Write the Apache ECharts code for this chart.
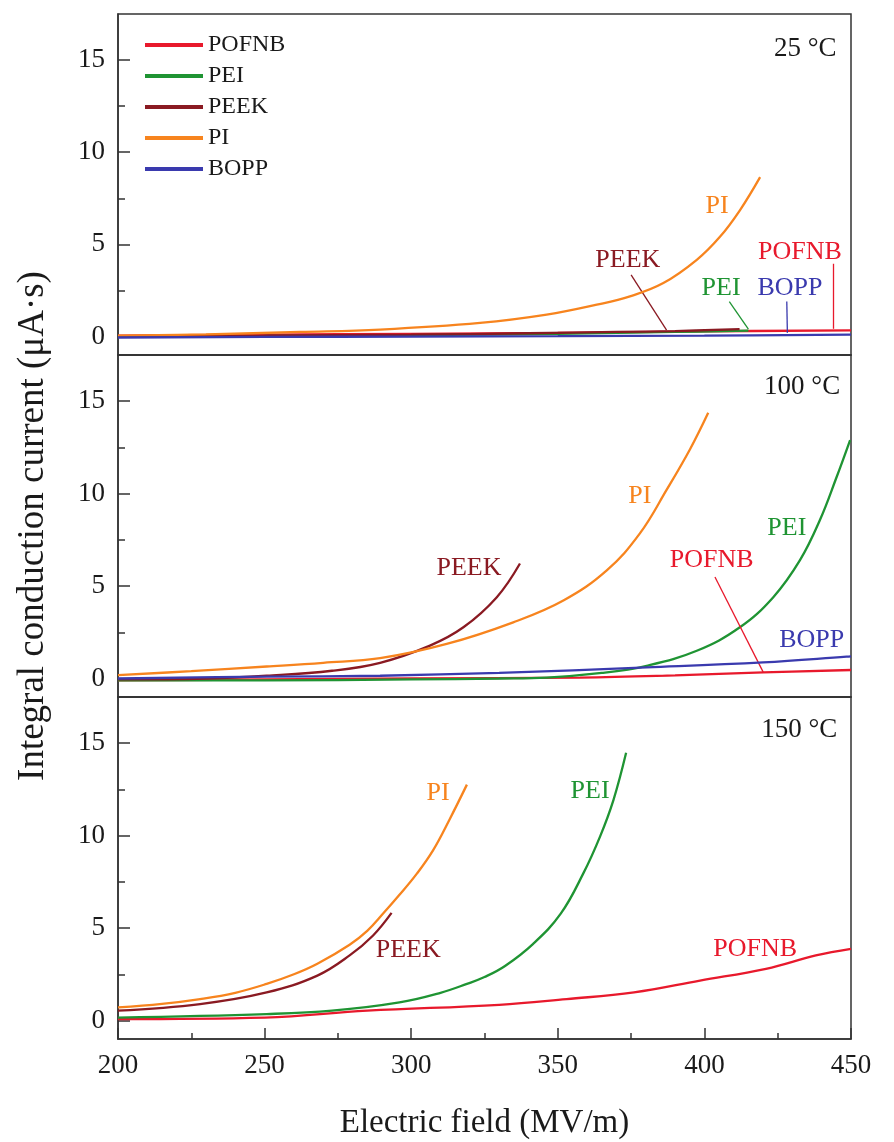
<!DOCTYPE html>
<html>
<head>
<meta charset="utf-8">
<script src="https://cdn.jsdelivr.net/npm/echarts@6/dist/echarts.min.js"></script>
<style>html,body{margin:0;padding:0;background:#fff}#c{width:894px;height:1142px}</style>
</head>
<body>
<div id="c"></div>
<script>
// ---------- data (x: electric field MV/m, y: integral conduction current µA·s) ----------
const materials = ['POFNB', 'PEI', 'PEEK', 'PI', 'BOPP'];
const temperatures = ['25 °C', '100 °C', '150 °C'];
const xTickLabels = [200, 250, 300, 350, 400, 450];
const xMinorTicks = [225, 275, 325, 375, 425];
const yTickLabels = [0, 5, 10, 15];
const yMinorTicks = [2.5, 7.5, 12.5];

// 25 °C
const POFNB_25 = [[200,0.05],[250,0.1],[300,0.15],[350,0.2],[400,0.28],[450,0.34]];
const PEI_25   = [[200,0.0],[250,0.03],[300,0.08],[350,0.15],[390,0.25],[415,0.32]];
const PEEK_25  = [[200,0.02],[250,0.05],[300,0.1],[340,0.18],[370,0.25],[390,0.3],[412,0.4]];
const PI_25    = [[200,0.05],[230,0.12],[262,0.25],[289.4,0.38],[323.5,0.74],[346.2,1.19],[363.3,1.73],[374.6,2.18],[386,2.9],[397.4,4.16],[405.3,5.41],[412.1,6.85],[419,8.65]];
const BOPP_25  = [[200,-0.05],[250,-0.02],[300,0.0],[350,0.02],[400,0.05],[450,0.1]];

// 100 °C
const POFNB_100 = [[200,-0.1],[250,-0.05],[300,0.0],[357.6,0.05],[390,0.17],[420.1,0.33],[450,0.46]];
const PEI_100   = [[200,-0.1],[250,-0.1],[300,-0.05],[330,0.0],[346.2,0.05],[365,0.3],[380.3,0.69],[397.4,1.5],[412.1,2.77],[423.5,4.4],[432.6,6.4],[439.4,8.57],[445.1,10.9],[449.7,12.9]];
const PEEK_100  = [[200,-0.05],[230,0.0],[250.7,0.15],[273,0.42],[289.4,0.85],[306.4,1.78],[317.8,2.77],[329.2,4.4],[337.1,6.22]];
const PI_100    = [[200,0.18],[225,0.4],[250.7,0.65],[270,0.85],[289.4,1.1],[312.1,1.87],[334.8,3.04],[351.9,4.22],[366.7,5.85],[378,7.85],[387.1,10.2],[395.1,12.4],[401.3,14.37]];
const BOPP_100  = [[200,0.0],[250,0.1],[289.4,0.15],[330,0.3],[380.3,0.6],[420,0.87],[448.5,1.18],[450,1.2]];

// 150 °C
const POFNB_150 = [[200,0.08],[250,0.16],[285,0.53],[330,0.85],[353,1.16],[376,1.52],[398.5,2.16],[421,2.8],[438,3.52],[450,3.88]];
const PEI_150   = [[200,0.16],[250.7,0.35],[273,0.53],[296,0.98],[310,1.5],[319,1.98],[325,2.35],[332,2.95],[341.6,4.15],[351,5.78],[358.7,7.96],[364.4,9.95],[369,11.94],[373.3,14.48]];
const PEEK_150  = [[200,0.53],[228,0.89],[250.7,1.52],[268,2.43],[279,3.52],[287,4.6],[293.3,5.82]];
const PI_150    = [[200,0.71],[215,0.9],[228,1.16],[240,1.5],[250.7,1.98],[260,2.5],[268,3.07],[279,4.1],[285,4.85],[290.5,5.8],[296,6.8],[302,7.96],[307.5,9.22],[313,10.85],[319,12.76]];

const panelData = [
  {POFNB: POFNB_25, PEI: PEI_25, PEEK: PEEK_25, PI: PI_25, BOPP: BOPP_25},
  {POFNB: POFNB_100, PEI: PEI_100, PEEK: PEEK_100, PI: PI_100, BOPP: BOPP_100},
  {POFNB: POFNB_150, PEI: PEI_150, PEEK: PEEK_150, PI: PI_150}
];

// ---------- styling ----------
const colors = {POFNB:'#e8192c', PEI:'#1f9433', PEEK:'#8a1a22', PI:'#f7841e', BOPP:'#3a3aae'};
const FONT = '"Liberation Serif", "Times New Roman", serif';
const TXT = '#1a1a1a';
const FRAME = '#333';

// annotation labels per panel: [material, x, y]
const labels = [
  [['PI',404.3,7.1],['PEEK',373.9,4.15],['PEI',405.7,2.6],['BOPP',429.2,2.6],['POFNB',432.6,4.6]],
  [['PEEK',319.7,5.96],['PI',378,9.84],['PEI',428.1,8.12],['POFNB',402.5,6.4],['BOPP',436.6,2.05]],
  [['PI',309.2,12.3],['PEEK',299,3.79],['PEI',361,12.4],['POFNB',417.3,3.88]]
];
// arrows: [material, x1, y1, x2, y2]
const arrows = [
  [['PEEK',375,3.35,387.1,0.35],['PEI',408.5,1.9,415,0.4],['BOPP',428.1,1.9,428.3,0.2],['POFNB',444,3.95,444,0.42]],
  [['POFNB',403.6,5.49,420.1,0.33]],
  []
];
const tempPos = [[445.1,15.6],[446.3,15.8],[445.3,15.74]];

const grids = [
  {left:118, top:14, width:733, height:341},
  {left:118, top:355, width:733, height:342},
  {left:118, top:697, width:733, height:342}
];

const xAxes = [], yAxes = [], series = [];
const tickStyle = {color:FRAME, width:1.5};
grids.forEach((g, p) => {
  g.show = true; g.borderColor = FRAME; g.borderWidth = 1.5; g.backgroundColor = 'transparent';
  const bottom = p === 2;
  xAxes.push({
    type:'value', gridIndex:p, min:200, max:450, interval:50, position:'bottom',
    axisLine:{show:true, onZero:false, lineStyle:tickStyle},
    axisTick:{show:bottom, inside:true, length:11, customValues:xTickLabels, lineStyle:tickStyle},
    axisLabel:{show:bottom, margin:13, fontSize:27, fontFamily:FONT, color:TXT, customValues:xTickLabels},
    splitLine:{show:false},
    name: bottom ? 'Electric field (MV/m)' : '',
    nameLocation:'middle', nameGap:68,
    nameTextStyle:{fontSize:33, fontFamily:FONT, color:TXT}
  });
  // minor x ticks
  xAxes.push({
    type:'value', gridIndex:p, min:200, max:450, position:'bottom',
    axisLine:{show:false, onZero:false},
    axisTick:{show:bottom, inside:true, length:6, customValues:xMinorTicks, lineStyle:tickStyle},
    axisLabel:{show:false}, splitLine:{show:false}
  });
  yAxes.push({
    type:'value', gridIndex:p, min:-1, max:17.5, position:'left',
    axisLine:{show:true, onZero:false, lineStyle:tickStyle},
    axisTick:{show:true, inside:true, length:12, customValues:yTickLabels, lineStyle:tickStyle},
    axisLabel:{show:true, margin:13, fontSize:27, fontFamily:FONT, color:TXT, customValues:yTickLabels},
    splitLine:{show:false},
    name: p === 1 ? 'Integral conduction current (μA·s)' : '',
    nameLocation:'middle', nameGap:66,
    nameTextStyle:{fontSize:37, fontFamily:FONT, color:TXT}
  });
  // minor y ticks
  yAxes.push({
    type:'value', gridIndex:p, min:-1, max:17.5, position:'left',
    axisLine:{show:false, onZero:false},
    axisTick:{show:true, inside:true, length:7, customValues:yMinorTicks, lineStyle:tickStyle},
    axisLabel:{show:false}, splitLine:{show:false}
  });

  const d = panelData[p];
  materials.forEach((m, idx) => {
    if (!d[m]) return;
    const s = {
      name:m, type:'line', xAxisIndex:p*2, yAxisIndex:p*2, data:d[m],
      symbol:'none', smooth:0.4,
      lineStyle:{color:colors[m], width:2.3}, itemStyle:{color:colors[m]},
      z: 2 + idx
    };
    const mp = [];
    labels[p].filter(l => l[0] === m).forEach(l => {
      mp.push({coord:[l[1], l[2]], symbol:'circle', symbolSize:0,
        label:{show:true, position:'inside', formatter:m, color:colors[m], fontSize:26, fontFamily:FONT}});
    });
    if (m === 'POFNB') {
      mp.push({coord:tempPos[p], symbol:'circle', symbolSize:0,
        label:{show:true, position:'left', distance:0, formatter:temperatures[p], color:TXT, fontSize:27, fontFamily:FONT}});
    }
    if (mp.length) s.markPoint = {silent:true, data:mp, animation:false};
    const ml = arrows[p].filter(a => a[0] === m).map(a => [
      {coord:[a[1], a[2]]}, {coord:[a[3], a[4]]}
    ]);
    if (ml.length) s.markLine = {silent:true, symbol:['none','arrow'], symbolSize:[0,10], precision:4,
      lineStyle:{type:'solid', width:1.3, color:colors[m]}, label:{show:false}, data:ml, animation:false};
    series.push(s);
  });
});

const chart = echarts.init(document.getElementById('c'), null, {renderer:'canvas'});
chart.setOption({
  animation:false,
  backgroundColor:'#fff',
  grid:grids, xAxis:xAxes, yAxis:yAxes, series:series,
  legend:{
    data:materials, orient:'vertical', left:145, top:33, padding:0,
    icon:'rect', itemWidth:58, itemHeight:4, itemGap:7,
    textStyle:{fontSize:24, fontFamily:FONT, color:TXT, lineHeight:24}
  }
});
</script>
</body>
</html>
